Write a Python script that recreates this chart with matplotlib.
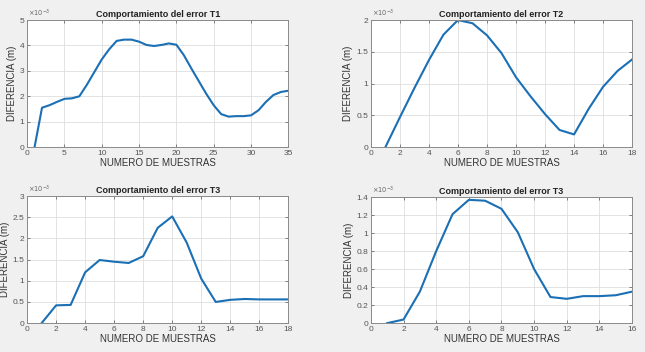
import matplotlib
matplotlib.use('Agg')
from matplotlib import pyplot as plt
from matplotlib.ticker import FuncFormatter

# values in units of 1e-3 m
x_t1 = list(range(1, 36))
t1 = [0.0, 1.55, 1.65, 1.78, 1.9, 1.92, 2.0, 2.45, 2.95, 3.45,
      3.85, 4.18, 4.23, 4.23, 4.15, 4.02, 3.98, 4.02, 4.08, 4.03,
      3.62, 3.1, 2.6, 2.1, 1.65, 1.3, 1.2, 1.22, 1.22, 1.25,
      1.45, 1.78, 2.05, 2.17, 2.22]

x_t2 = list(range(1, 19))
t2 = [0.0, 0.47, 0.93, 1.37, 1.77, 2.0, 1.95, 1.76, 1.48, 1.1,
      0.8, 0.52, 0.27, 0.2, 0.6, 0.95, 1.2, 1.38]

x_t3a = list(range(1, 19))
t3a = [0.0, 0.42, 0.43, 1.2, 1.49, 1.45, 1.42, 1.58, 2.25, 2.52,
       1.9, 1.05, 0.5, 0.55, 0.57, 0.56, 0.56, 0.56]

x_t3b = list(range(1, 17))
t3b = [0.0, 0.04, 0.35, 0.8, 1.21, 1.37, 1.36, 1.27, 1.01, 0.6,
       0.29, 0.27, 0.30, 0.30, 0.31, 0.35]

panels = [
	dict(x=x_t1, y=t1, title='Comportamiento del error T1', xlim=35, xticks=range(0, 36, 5),
		 ylim=5, yticks=[0, 1, 2, 3, 4, 5]),
	dict(x=x_t2, y=t2, title='Comportamiento del error T2', xlim=18, xticks=range(0, 19, 2),
		 ylim=2, yticks=[0, 0.5, 1, 1.5, 2]),
	dict(x=x_t3a, y=t3a, title='Comportamiento del error T3', xlim=18, xticks=range(0, 19, 2),
		 ylim=3, yticks=[0, 0.5, 1, 1.5, 2, 2.5, 3]),
	dict(x=x_t3b, y=t3b, title='Comportamiento del error T3', xlim=16, xticks=range(0, 17, 2),
		 ylim=1.4, yticks=[0, 0.2, 0.4, 0.6, 0.8, 1, 1.2, 1.4]),
]

positions = [
	[0.042, 0.582, 0.405, 0.361],
	[0.575, 0.582, 0.405, 0.361],
	[0.042, 0.082, 0.405, 0.361],
	[0.575, 0.082, 0.405, 0.358],
]

plt.rcParams['font.family'] = ['Liberation Sans', 'DejaVu Sans']

fig = plt.figure(figsize=(6.45, 3.52), dpi=100, facecolor='#f0f0f0')
fmt = FuncFormatter(lambda v, p: f'{v:g}')

for pos, p in zip(positions, panels):
	ax = fig.add_axes(pos)
	ax.set_facecolor('white')
	ax.plot(p['x'], p['y'], color='#1a6fb5', lw=1.5)
	ax.set_xlim(0, p['xlim'])
	ax.set_ylim(0, p['ylim'])
	ax.set_xticks(list(p['xticks']))
	ax.set_yticks(p['yticks'])
	ax.yaxis.set_major_formatter(fmt)
	ax.grid(True, color='#dedede', lw=0.6)
	ax.set_axisbelow(True)
	ax.tick_params(labelsize=6, colors='#555555', length=2, width=0.5,
				   direction='in', top=True, right=True, pad=2)
	for s in ax.spines.values():
		s.set_color('#8a8a8a')
		s.set_linewidth(0.7)
	ax.set_title(p['title'], fontsize=6.5, fontweight='bold', color='#222222', pad=2)
	ax.set_xlabel('NUMERO DE MUESTRAS', fontsize=7, color='#333333', labelpad=1)
	ax.set_ylabel('DIFERENCIA (m)', fontsize=7, color='#333333', labelpad=2)
	ax.text(0.005, 1.01, r'$\times10^{-3}$', transform=ax.transAxes, fontsize=4.8,
			color='#666666', va='bottom', ha='left')

fig.savefig('out.png', dpi=100, facecolor=fig.get_facecolor())
